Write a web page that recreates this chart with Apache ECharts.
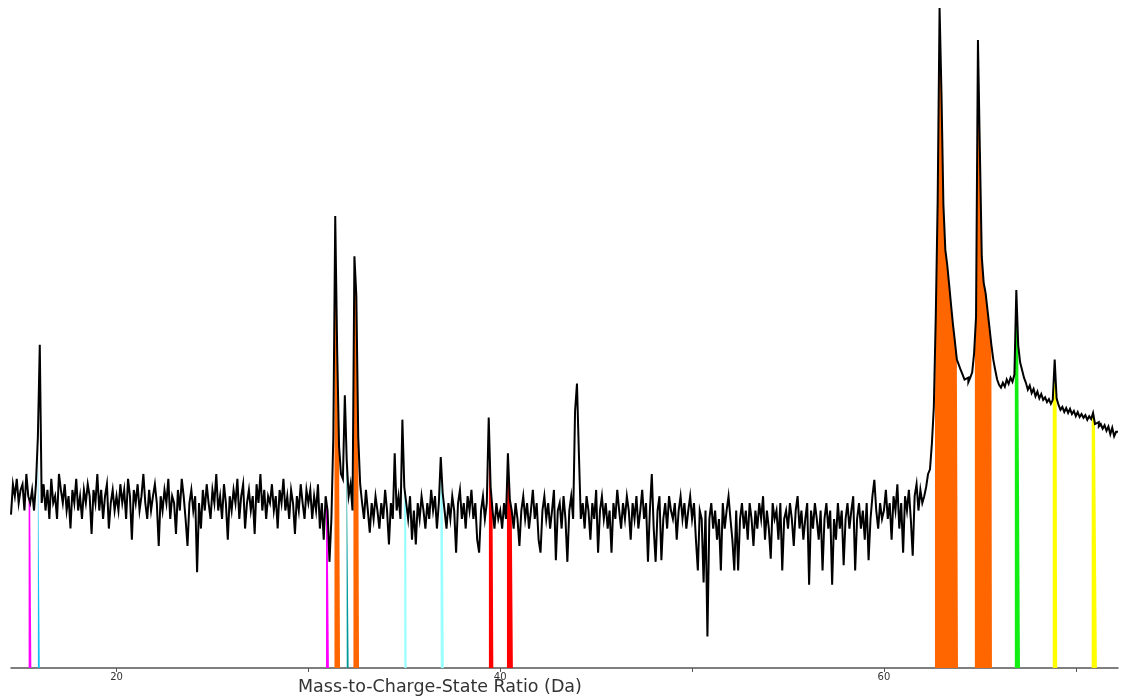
<!DOCTYPE html>
<html>
<head>
<meta charset="utf-8">
<script src="https://cdn.jsdelivr.net/npm/echarts@6/dist/echarts.min.js"></script>
<style>
html,body{margin:0;padding:0;background:#fff;}
#chart{width:1124px;height:700px;}
</style>
</head>
<body>
<div id="chart"></div>
<script>
// Histogram bins: start 14.5 Da, width 0.1 Da (counts per bin)
const binStart = 14.5;
const binWidth = 0.1;

// 14.5 - 19.9 Da
const counts14to20 = [
  8.5, 13, 11, 14, 10,
  12, 13, 9, 15, 11, 10, 12, 9, 13, 25,
  91, 10, 13, 9, 12, 8, 14, 10, 11, 8,
  15, 12, 10, 13, 9, 11, 7, 12, 10, 14,
  9, 11, 8, 12, 10, 13, 11, 6.5, 12, 10,
  15, 9, 12, 8, 11, 13, 7, 10, 12, 9
];
// 20.0 - 29.9 Da
const counts20to30 = [
  11, 9, 13, 10, 12, 8, 14, 11, 6, 12,
  10, 13, 9, 11, 15, 10, 8, 12, 9, 11,
  13, 10, 5.5, 11, 9, 12, 10, 14, 8, 11,
  10, 6.5, 12, 9, 14, 11, 8, 5.5, 10, 12,
  9, 11, 3.8, 10, 7, 12, 9, 13, 10, 8,
  12, 10, 15, 9, 11, 8, 13, 10, 6, 11,
  9, 12, 10, 14, 8, 11, 13, 7, 10, 12,
  9, 11, 6.5, 13, 10, 15, 9, 12, 8, 11,
  10, 13, 9, 11, 7, 12, 10, 14, 9, 11,
  8, 12, 10, 6.5, 11, 9, 13, 10, 8, 12
];
// 30.0 - 39.9 Da
const counts30to40 = [
  10, 12, 8, 11, 9, 13, 7, 10, 6, 11,
  9, 4.4, 8, 25, 548, 85, 22, 15, 14, 45,
  18, 11, 13, 9, 313, 180, 25, 13, 10, 8,
  12, 9, 6.6, 10, 8, 11, 9, 7, 10, 8,
  12, 9, 5.6, 10, 8, 20, 9, 11, 8, 32,
  12.5, 10, 8, 11, 6, 9, 5.6, 10, 8, 11,
  9, 7, 10, 8, 12, 9, 11, 7, 10, 19,
  11.5, 9, 7, 10, 8, 11, 9, 5, 10, 12,
  8, 10, 7, 11, 9, 12, 8, 10, 6, 5,
  9, 11, 8, 10, 33, 12.5, 9, 7, 10, 8
];
// 40.0 - 49.9 Da
const counts40to50 = [
  9, 7, 10, 8, 20, 10.5, 9, 7, 10, 8,
  5.5, 9, 11, 8, 10, 7, 9, 12, 8, 10,
  6, 5, 9, 11, 8, 10, 7, 9, 12, 4.5,
  9, 10, 7, 11, 8, 4.4, 9, 11, 8, 36,
  53, 20, 8, 10, 7, 11, 9, 6, 10, 8,
  12, 5, 9, 11, 8, 10, 7, 9, 5, 10,
  8, 12, 9, 7, 10, 8, 11, 9, 6, 10,
  8, 11, 7, 9, 12, 8, 10, 4.4, 9, 15,
  7, 4.4, 9, 11, 4.5, 8, 10, 7, 11, 9,
  8, 10, 6, 9, 11, 8, 10, 7, 9, 11
];
// 50.0 - 59.9 Da
const counts50to60 = [
  8, 10, 6, 3.9, 9, 8, 3.3, 9, 1.55, 8,
  10, 7, 9, 6, 8, 3.9, 10, 7, 9, 11,
  8, 6, 3.9, 9, 3.9, 8, 10, 7, 9, 6,
  10, 8, 5.5, 9, 7, 10, 8, 11, 6, 9,
  7, 4.6, 10, 8, 9, 6, 10, 3.9, 8, 9,
  7, 10, 8, 5.5, 9, 11, 7, 9, 6, 8,
  10, 3.2, 9, 7, 10, 8, 6, 9, 3.9, 8,
  10, 7, 9, 3.2, 8, 6, 10, 7, 9, 4.2,
  8, 10, 7, 9, 11, 3.9, 8, 10, 7, 9,
  6, 10, 4.5, 8, 11, 13.8, 9, 7, 10, 8
];
// 60.0 - 72.1 Da
const counts60to72 = [
  9, 12, 8, 10, 6, 11, 9, 13, 7, 10,
  5, 11, 9, 12, 8, 4.8, 11, 13, 9, 12,
  10, 11, 12.5, 15, 16, 23, 38, 132, 667, 10000,
  3000, 640, 342, 277, 210, 158, 120, 95, 74, 69,
  64, 60, 56, 57.5, 54, 57.5, 62, 81, 134, 6400,
  1373, 310, 216, 187, 147, 116, 91, 74, 64, 56,
  52, 50, 53.5, 50.7, 56, 52.7, 57.5, 54.3, 60, 195,
  90, 71, 64, 57.5, 53.5, 48.6, 51.5, 46.4, 49.1, 44.3,
  47.3, 43.1, 45.8, 42.2, 43.7, 40.9, 42.6, 39.9, 42.2, 74,
  43.1, 39.3, 36.7, 38.2, 35.6, 37.6, 35.1, 37.2, 34.6, 36.1,
  33.6, 35.6, 33.2, 34.6, 32.8, 34.1, 31.9, 33.6, 32.3, 35.1,
  30.1, 30.9, 29.1, 30.1, 28.2, 29.6, 27.4, 29.1, 26.1, 28.6,
  25.4, 27.0
];

// Ranged ions: from Da, to Da, colour
const rangeFrom = [15.42, 15.90, 30.92, 31.36, 31.98, 32.35, 34.98, 36.88, 39.41, 40.35, 62.66, 64.74, 66.82, 68.80, 70.83];
const rangeTo   = [15.56, 16.00, 31.07, 31.65, 32.10, 32.64, 35.12, 37.06, 39.64, 40.66, 63.86, 65.63, 67.09, 69.03, 71.10];
const rangeColor = ['#ff00ff', '#10c0f0', '#ff00ff', '#ff6600', '#009999', '#ff6600', '#99ffff', '#99ffff',
                    '#ff0000', '#ff0000', '#ff6600', '#ff6600', '#11ee11', '#ffff00', '#ffff00'];

const tickValues = [20, 30, 40, 50, 60, 70];
const labelValues = [20, 40, 60];
const axisTitle = 'Mass-to-Charge-State Ratio (Da)';
const xMin = 14.5, xMax = 72.2;

const counts = [].concat(counts14to20, counts20to30, counts30to40, counts40to50, counts50to60, counts60to72);
const binX = counts.map((v, i) => +(binStart + i * binWidth).toFixed(2));
const binEnd = i => +(binStart + (i + 1) * binWidth).toFixed(2);

// histogram outline: each bin drawn as a flat top from its left to right edge
const spectrum = [];
counts.forEach((v, i) => { spectrum.push([binX[i], v]); spectrum.push([binEnd(i), v]); });

function binIndex(x) {
  return Math.min(counts.length - 1, Math.max(0, Math.floor((x - binStart) / binWidth + 1e-6)));
}
function rangePoints(lo, hi) {
  const pts = [];
  const i0 = binIndex(lo), i1 = binIndex(hi - 1e-4);
  for (let i = i0; i <= i1; i++) {
    const a = Math.max(lo, binX[i]), b = Math.min(hi, binEnd(i));
    pts.push([a, counts[i]]);
    pts.push([b, counts[i]]);
  }
  return pts;
}

const fillSeries = rangeFrom.map((lo, k) => ({
  type: 'line',
  symbol: 'none',
  silent: true,
  z: 2,
  data: rangePoints(lo, rangeTo[k]),
  lineStyle: { width: 0, color: rangeColor[k] },
  itemStyle: { color: rangeColor[k] },
  areaStyle: { color: rangeColor[k], opacity: 1, origin: 'start' }
}));

const chart = echarts.init(document.getElementById('chart'), null, { renderer: 'canvas' });
chart.setOption({
  animation: false,
  backgroundColor: '#ffffff',
  title: {
    text: axisTitle,
    left: 298,
    top: 678,
    padding: 0,
    textStyle: { fontFamily: 'DejaVu Sans', fontSize: 17.5, fontWeight: 'normal', color: '#333' }
  },
  grid: { left: 11, right: 6, top: 8, bottom: 32, containLabel: false },
  xAxis: {
    type: 'value',
    min: xMin,
    max: xMax,
    axisLine: { show: true, onZero: false, lineStyle: { color: '#555', width: 1.5 } },
    axisTick: { show: true, customValues: tickValues, length: 4, lineStyle: { color: '#555', width: 1 } },
    axisLabel: { customValues: labelValues, fontSize: 10, color: '#333', fontFamily: 'DejaVu Sans', margin: 4 },
    splitLine: { show: false }
  },
  yAxis: {
    type: 'log',
    min: 1,
    max: 10000,
    show: false,
    splitLine: { show: false }
  },
  series: fillSeries.concat([{
    type: 'line',
    symbol: 'none',
    silent: true,
    z: 3,
    data: spectrum,
    lineStyle: { color: '#000', width: 2, join: 'miter', cap: 'butt' }
  }])
});
</script>
</body>
</html>
